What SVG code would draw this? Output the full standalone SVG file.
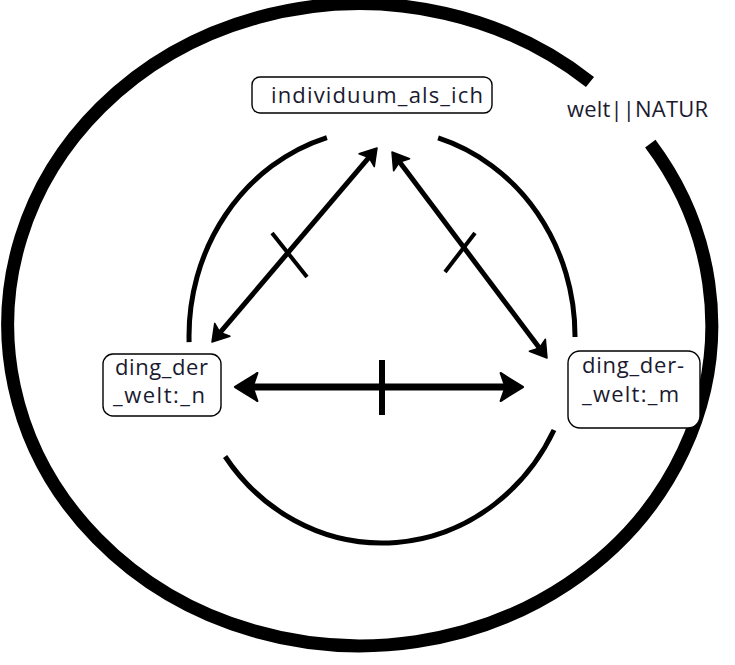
<svg xmlns="http://www.w3.org/2000/svg" width="735" height="665" viewBox="0 0 735 665">
<style>
  .ring { fill: none; stroke: #000; stroke-width: 13; stroke-linecap: butt; }
  .inner { fill: none; stroke: #000; stroke-width: 5; stroke-linecap: butt; }
  .box { fill: #fff; stroke: #000; stroke-width: 1.4; }
  .lbl { font-family: "Open Sans", "Noto Sans", "DejaVu Sans", sans-serif; font-size: 22px; fill: #1a1a30; }
  .arrow { fill: none; stroke: #000; stroke-linecap: butt; marker-start: url(#head); marker-end: url(#head); }
  .diag { stroke-width: 5; }
  .horiz { stroke-width: 7; }
  .tick { fill: none; stroke: #000; stroke-width: 4; stroke-linecap: butt; }
</style>
<defs>
  <marker id="head" viewBox="-3 -3 5 6" refX="0" refY="0" markerWidth="5" markerHeight="6" orient="auto-start-reverse" markerUnits="strokeWidth" overflow="visible">
    <path d="M0.9,0 L-2.3,-2 L-1.6,0 L-2.3,2 Z" fill="#000" stroke="#000" stroke-width="0.3" stroke-linejoin="round"/>
  </marker>
</defs>
<rect width="735" height="665" fill="#fff"/>

<g id="welt_natur">
  <path class="ring" d="M650.3,143.6 A352,321 0 1 1 590,82"/>
  <text class="lbl" x="567" y="117" textLength="141">welt||NATUR</text>
</g>

<g id="inner_circle">
  <path class="inner" d="M189.1,342.1 A193,207 0 0 1 326.9,137.6"/>
  <path class="inner" d="M438.1,137.9 A193,207 0 0 1 575,337.1"/>
  <path class="inner" d="M554,430 A193,207 0 0 1 225.1,456.5"/>
</g>

<g id="connectors">
  <line class="arrow diag" x1="214.9" y1="338.6" x2="374.1" y2="151.4"/>
  <line class="tick" x1="272" y1="233" x2="307" y2="277"/>
  <line class="arrow diag" x1="394.7" y1="155.6" x2="544.3" y2="354.4"/>
  <line class="tick" x1="475" y1="233" x2="445" y2="272"/>
  <line class="arrow horiz" x1="241.3" y1="387" x2="516.7" y2="387"/>
  <line class="tick" style="stroke-width:6" x1="382" y1="360" x2="382" y2="415"/>
</g>

<g id="individuum_als_ich">
  <rect class="box" x="252" y="77" width="240" height="36" rx="8"/>
  <text class="lbl" x="271" y="103" textLength="212">individuum_als_ich</text>
</g>

<g id="ding_der_welt_n">
  <rect class="box" x="103" y="354" width="118" height="62" rx="10"/>
  <text class="lbl" x="115" y="375" textLength="93">ding_der</text>
  <text class="lbl" x="113" y="403" textLength="92">_welt:_n</text>
</g>

<g id="ding_der_welt_m">
  <rect class="box" x="568" y="351" width="132" height="77" rx="12"/>
  <text class="lbl" x="582" y="373" textLength="102">ding_der-</text>
  <text class="lbl" x="582" y="402" textLength="97">_welt:_m</text>
</g>
</svg>
